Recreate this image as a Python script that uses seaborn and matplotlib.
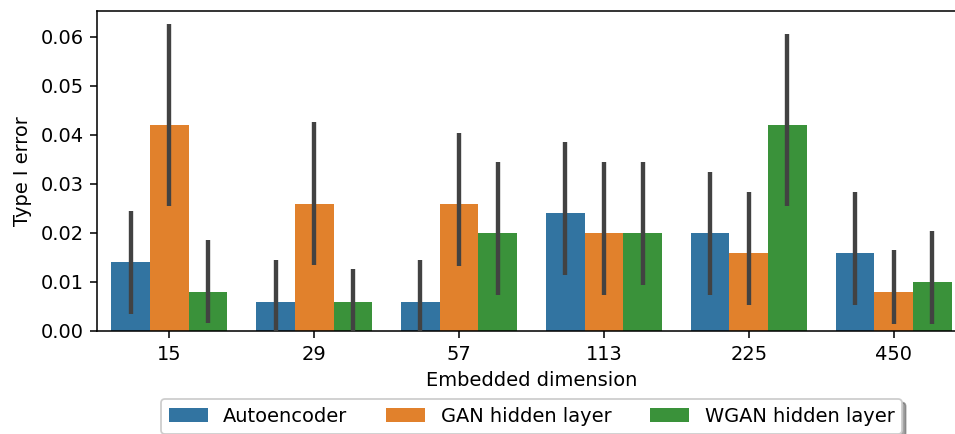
import matplotlib
matplotlib.use("Agg")
import matplotlib.pyplot as plt
import seaborn as sns
import pandas as pd

# Embedded dimensions on the x axis
dims = ["15", "29", "57", "113", "225", "450"]
methods = ["Autoencoder", "GAN hidden layer", "WGAN hidden layer"]

# Mean Type I error per method and dimension
autoencoder = [0.014, 0.006, 0.006, 0.024, 0.020, 0.016]
gan_hidden = [0.042, 0.026, 0.026, 0.020, 0.016, 0.008]
wgan_hidden = [0.008, 0.006, 0.020, 0.020, 0.042, 0.010]

# Confidence interval bounds (low, high) per method and dimension
autoencoder_lo = [0.0034, 0.0000, 0.0000, 0.0114, 0.0074, 0.0054]
autoencoder_hi = [0.0245, 0.0145, 0.0145, 0.0385, 0.0325, 0.0284]
gan_lo = [0.0256, 0.0135, 0.0133, 0.0074, 0.0054, 0.0014]
gan_hi = [0.0626, 0.0426, 0.0405, 0.0344, 0.0284, 0.0165]
wgan_lo = [0.0016, 0.0000, 0.0074, 0.0094, 0.0256, 0.0014]
wgan_hi = [0.0186, 0.0126, 0.0344, 0.0344, 0.0607, 0.0205]

means = [autoencoder, gan_hidden, wgan_hidden]
lows = [autoencoder_lo, gan_lo, wgan_lo]
highs = [autoencoder_hi, gan_hi, wgan_hi]

df = pd.DataFrame({
    "Embedded dimension": [d for _ in methods for d in dims],
    "Type I error": [v for series in means for v in series],
    "method": [m for m in methods for _ in dims],
})

scale = 1.12
plt.rcParams.update({
    "font.size": 10 * scale,
    "axes.linewidth": 0.8 * scale,
    "xtick.major.size": 3.5 * scale,
    "ytick.major.size": 3.5 * scale,
    "xtick.major.width": 0.8 * scale,
    "ytick.major.width": 0.8 * scale,
    "xtick.major.pad": 3.5 * scale,
    "ytick.major.pad": 3.5 * scale,
    "axes.labelpad": 4.0 * scale,
    "legend.fontsize": 10 * scale,
})

fig = plt.figure(figsize=(955 / 125, 434 / 125), dpi=125)
ax = fig.add_axes([97 / 955, 103 / 434, 869 / 955, 320 / 434])

sns.barplot(data=df, x="Embedded dimension", y="Type I error", hue="method",
            order=dims, hue_order=methods, errorbar=None, ax=ax)

# Confidence interval lines centred on each bar
for container, lo, hi in zip(ax.containers, lows, highs):
    for bar, l, h in zip(container, lo, hi):
        xc = bar.get_x() + bar.get_width() / 2
        ax.plot([xc, xc], [l, h], color=".26", linewidth=2.25 * scale,
                solid_capstyle="butt", zorder=3)

ax.set_ylim(0, 0.0653)
ax.set_xlim(-0.5, 5.5)

ax.legend(loc="upper center", bbox_to_anchor=(0.5, -0.2125), borderaxespad=0,
          ncol=3, shadow=True, title=None)

fig.savefig("out.png", dpi=125)
